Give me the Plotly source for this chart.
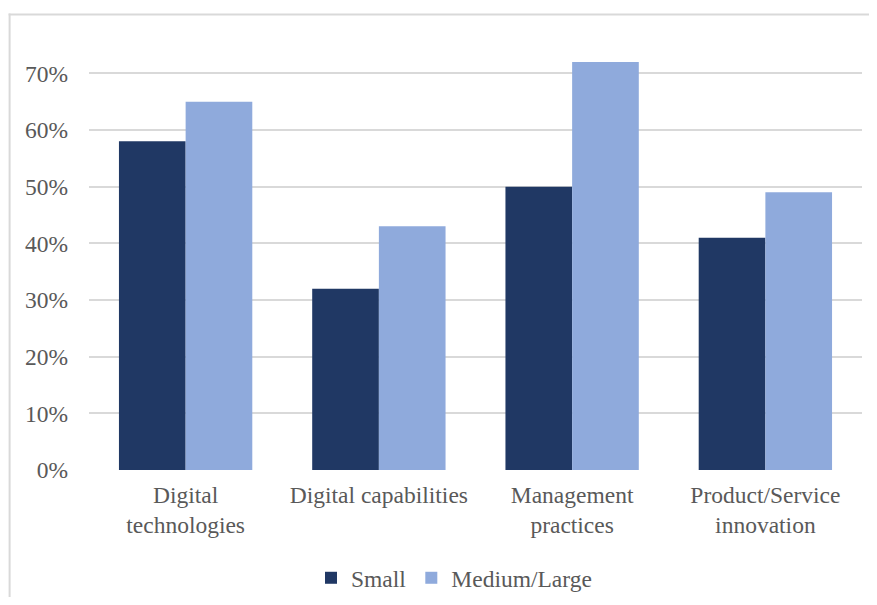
import plotly.graph_objects as go

categories = ["Digital<br>technologies", "Digital capabilities", "Management<br>practices", "Product/Service<br>innovation"]
small = [0.58, 0.32, 0.50, 0.41]
medium_large = [0.65, 0.43, 0.72, 0.49]
tick_vals = [0, 0.1, 0.2, 0.3, 0.4, 0.5, 0.6, 0.7]
tick_text = ["0%", "10%", "20%", "30%", "40%", "50%", "60%", "70%"]

OFF = 8  # page body margin
W, H = 877 - 2 * OFF, 605 - 2 * OFF
L, R, T, B = 88.5 - OFF, 862.5 - OFF, 44.6 - OFF, 470.5 - OFF
font = dict(family="Liberation Serif", size=23.5, color="#595959")

fig = go.Figure()
fig.add_trace(go.Bar(name="Small", x=categories, y=small, marker=dict(color="#203864", line=dict(width=0))))
fig.add_trace(go.Bar(name="Medium/Large", x=categories, y=medium_large, marker=dict(color="#8FAADC", line=dict(width=0))))

def px(x):
    return (x - OFF - L) / (R - L)

def py(y):
    return (B - (y - OFF)) / (B - T)

fig.update_layout(
    width=W, height=H,
    margin=dict(l=L, r=W - R, t=T, b=H - B, autoexpand=False),
    paper_bgcolor="white", plot_bgcolor="white",
    font=font,
    barmode="group", bargap=0.31, bargroupgap=0,
    showlegend=True,
    legend=dict(orientation="h", xref="container", yref="container",
                x=(454 - OFF) / W, xanchor="center", y=1 - (578 - OFF) / H, yanchor="middle",
                font=font, itemwidth=30, traceorder="normal", bgcolor="rgba(0,0,0,0)"),
    xaxis=dict(showgrid=False, showline=False, ticks="", tickfont=font, fixedrange=True,
               ticklabelstandoff=8, automargin=False),
    yaxis=dict(range=[0, 0.75], tickvals=tick_vals, ticktext=tick_text, showgrid=True,
               gridcolor="#d9d9d9", gridwidth=2, zeroline=False, showline=False,
               ticks="", tickfont=font, ticklabelstandoff=20, automargin=False),
    shapes=[
        dict(type="line", xref="paper", yref="paper", x0=px(9), x1=px(9), y0=py(13), y1=py(620),
             line=dict(color="#d9d9d9", width=2)),
        dict(type="line", xref="paper", yref="paper", x0=px(8), x1=px(890), y0=py(14), y1=py(14),
             line=dict(color="#d9d9d9", width=2)),
    ],
)

fig.write_html("out.html")
